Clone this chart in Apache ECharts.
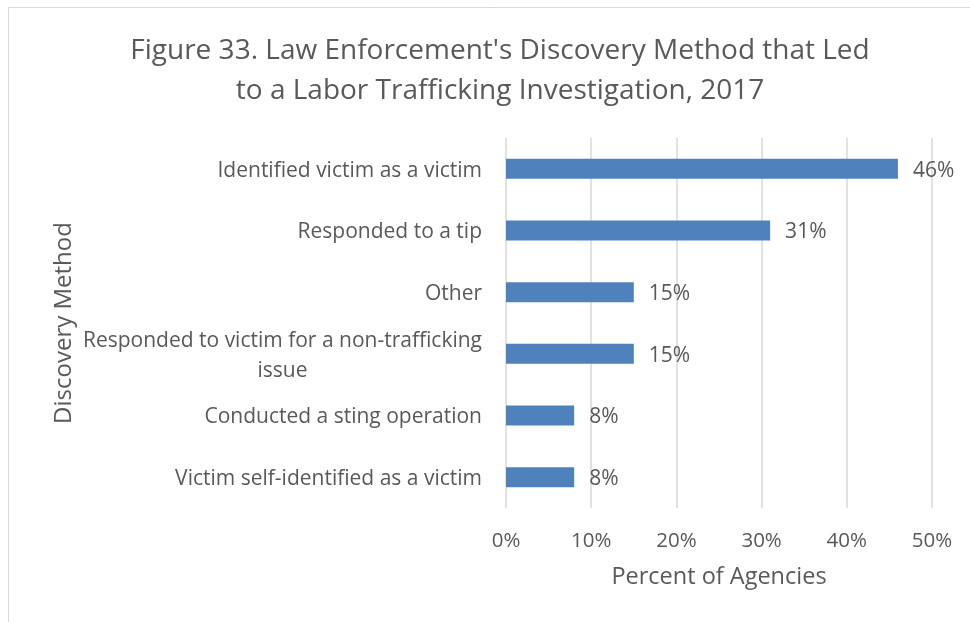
<!DOCTYPE html>
<html lang="en">
<head>
  <meta charset="UTF-8">
  <title>Figure 33</title>
  <script src="https://cdn.jsdelivr.net/npm/echarts@6/dist/echarts.min.js"></script>
  <style>
    html, body { margin: 0; padding: 0; background: #fff; }
  </style>
</head>
<body>
<div id="main" style="width:970px;height:622px;"></div>
<script>
  // discovery methods, top to bottom
  const methods = [
    'Identified victim as a victim',
    'Responded to a tip',
    'Other',
    'Responded to victim for a non-trafficking\nissue',
    'Conducted a sting operation',
    'Victim self-identified as a victim'
  ];
  // percent of agencies
  const percents = [46, 31, 15, 15, 8, 8];
  const xTicks = [0, 10, 20, 30, 40, 50];

  const textColor = '#595959';
  const font = 'Open Sans';

  let myChart = echarts.init(document.getElementById('main'));
  let option = {
    backgroundColor: '#fff',
    textStyle: { fontFamily: font },
    graphic: [
      {
        type: 'rect',
        shape: { x: 8.5, y: 7.5, width: 1000, height: 1000 },
        style: { fill: 'none', stroke: '#d9d9d9', lineWidth: 1 },
        silent: true
      }
    ],
    title: {
      text: "Figure 33. Law Enforcement's Discovery Method that Led\nto a Labor Trafficking Investigation, 2017",
      left: 495,
      top: 26,
      textAlign: 'center',
      textStyle: {
        fontFamily: font,
        fontWeight: 'normal',
        fontSize: 28,
        lineHeight: 40,
        color: textColor
      }
    },
    grid: {
      left: 506,
      right: 38,
      top: 138,
      bottom: 114
    },
    xAxis: {
      type: 'value',
      min: xTicks[0],
      max: xTicks[xTicks.length - 1],
      interval: 10,
      name: 'Percent of Agencies',
      nameLocation: 'middle',
      nameGap: 57,
      nameTextStyle: { fontFamily: font, fontSize: 23.5, color: textColor },
      axisLine: { show: false },
      axisTick: { show: false },
      axisLabel: {
        formatter: v => v + '%',
        fontFamily: font,
        fontSize: 20.5,
        color: textColor,
        margin: 23
      },
      splitLine: { lineStyle: { color: '#d9d9d9', width: 1.5 } }
    },
    yAxis: {
      type: 'category',
      inverse: true,
      data: methods,
      name: 'Discovery Method',
      nameLocation: 'middle',
      nameGap: 430,
      nameRotate: 90,
      nameTextStyle: { fontFamily: font, fontSize: 24, color: textColor },
      axisLine: { show: false },
      axisTick: { show: false },
      axisLabel: {
        margin: 24,
        padding: [4, 0, 0, 0],
        fontFamily: font,
        fontSize: 21,
        color: textColor,
        lineHeight: 30,
        formatter: v => v.split('\n').map(s => '{c|' + s + '}').join('\n'),
        rich: {
          c: { align: 'center', fontFamily: font, fontSize: 21, color: textColor, lineHeight: 30 }
        }
      }
    },
    series: [
      {
        type: 'bar',
        data: percents,
        barWidth: 20,
        itemStyle: { color: '#4F81BD' },
        label: {
          show: true,
          position: 'right',
          distance: 15,
          offset: [0, 2],
          formatter: p => p.value + '%',
          fontFamily: font,
          fontSize: 21,
          color: textColor
        }
      }
    ]
  };
  myChart.setOption(option);
</script>
</body>
</html>
